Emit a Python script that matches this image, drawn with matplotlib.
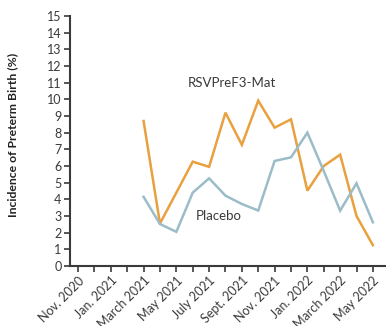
import numpy as np
import matplotlib.pyplot as plt

# monthly axis, Nov 2020 .. May 2022
months = ['Nov. 2020', 'Dec. 2020', 'Jan. 2021', 'Feb. 2021', 'March 2021', 'April 2021',
          'May 2021', 'June 2021', 'July 2021', 'Aug. 2021', 'Sept. 2021', 'Oct. 2021',
          'Nov. 2021', 'Dec. 2021', 'Jan. 2022', 'Feb. 2022', 'March 2022', 'April 2022',
          'May 2022']

# series start at March 2021
vaccine = [8.7, 2.55, 4.4, 6.26, 5.95, 9.2, 7.27, 9.92, 8.3, 8.8, 4.52, 6.0, 6.68, 3.0, 1.25]
placebo = [4.15, 2.52, 2.05, 4.4, 5.26, 4.22, 3.72, 3.33, 6.3, 6.52, 8.0, 5.7, 3.32, 4.96, 2.62]
start = months.index('March 2021')

orange = '#E9A03E'
blue = '#9BBCC9'
dark = '#3a3a3a'

plt.rcParams['font.family'] = ['Lato', 'DejaVu Sans']

fig = plt.figure(figsize=(3.86, 3.26), dpi=100)
ax = fig.add_axes([0.181, 0.184, 0.819, 0.767])

x = np.arange(start, start + len(vaccine))
ax.plot(x, vaccine, color=orange, lw=1.8, solid_joinstyle='miter')
ax.plot(x, placebo, color=blue, lw=1.8, solid_joinstyle='miter')

ax.text(6.7, 11.0, 'RSVPreF3-Mat', fontsize=9.5, color=dark, va='center', ha='left')
ax.text(7.2, 3.0, 'Placebo', fontsize=9.5, color=dark, va='center', ha='left')

ax.set_xlim(-0.5, 18.8)
ax.set_ylim(0, 15)
ax.set_yticks(range(0, 16))
ax.set_xticks(range(len(months)))
ax.set_xticklabels([m if i % 2 == 0 else '' for i, m in enumerate(months)],
                   rotation=45, ha='right', rotation_mode='anchor')

for s in ['top', 'right']:
    ax.spines[s].set_visible(False)
for s in ['left', 'bottom']:
    ax.spines[s].set_color(dark)
    ax.spines[s].set_linewidth(1.5)
ax.spines['left'].set_bounds(0, 15)

ax.tick_params(axis='both', colors=dark, labelsize=9, width=1.2, length=4, pad=2)
ax.tick_params(axis='x', labelrotation=45)

ax.set_ylabel('Incidence of Preterm Birth (%)', fontsize=8.8, fontweight='bold',
              color='#222222')
ax.yaxis.set_label_coords(-0.165, 0.524)

fig.savefig('out.png', dpi=100)
